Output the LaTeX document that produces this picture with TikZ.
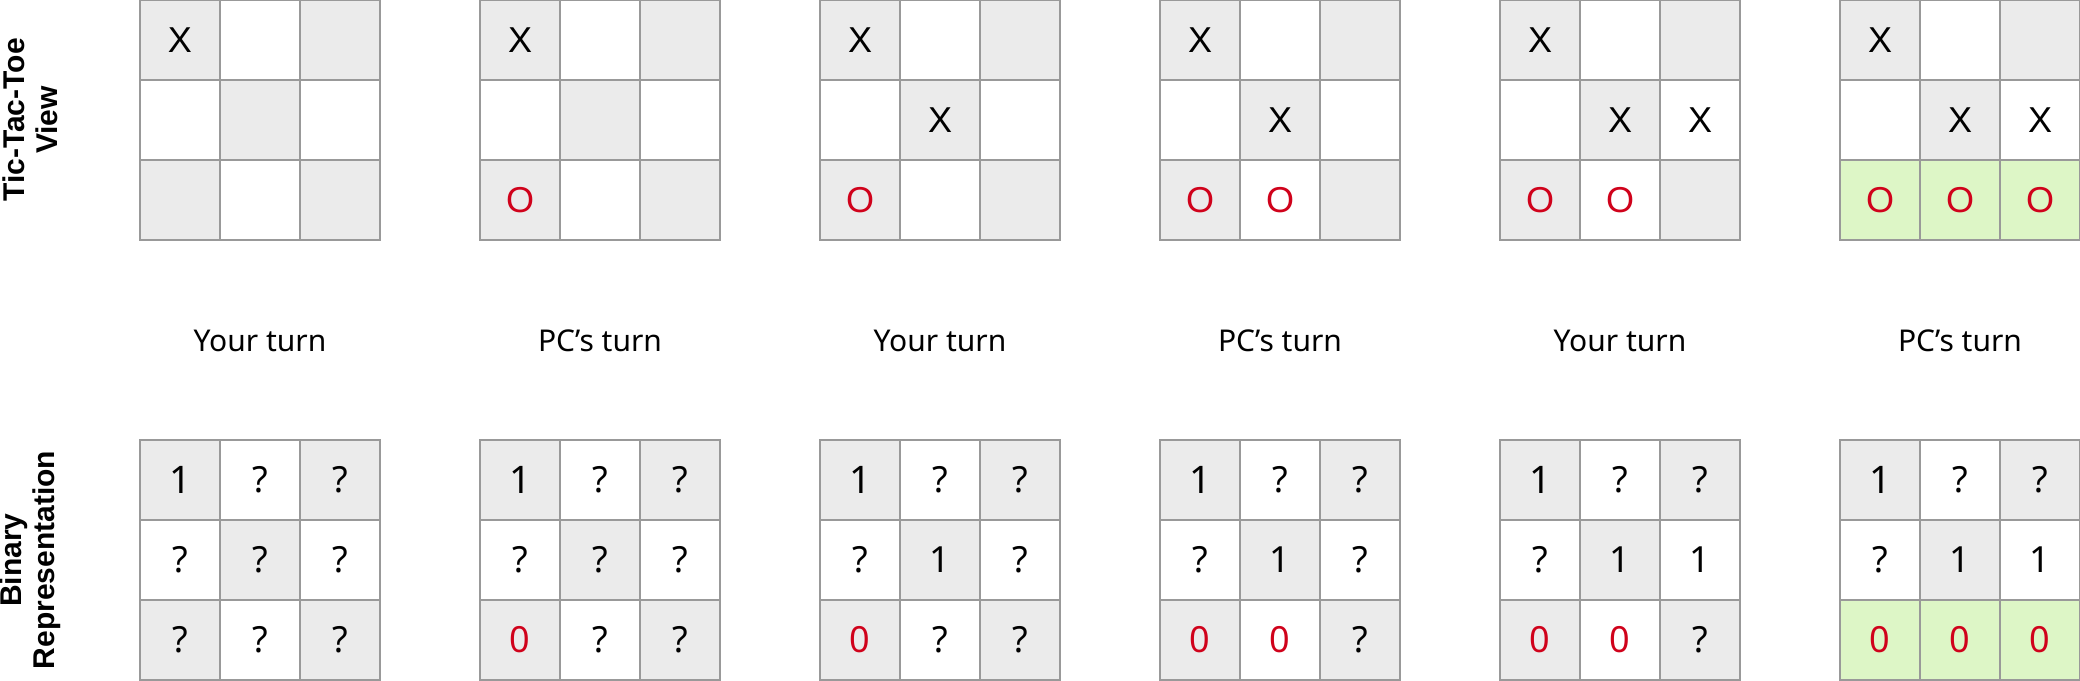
\documentclass[tikz,border=0pt]{standalone}
\usepackage{fontspec}
\setmainfont{Noto Sans}
\newfontfamily\arialf{Liberation Sans}
\definecolor{cellgray}{HTML}{EBEBEB}
\definecolor{cellgreen}{HTML}{DDF6C6}
\definecolor{gridline}{HTML}{999999}
\definecolor{markred}{HTML}{D0021B}
\newcommand\xofont{\arialf\fontsize{36}{36}\selectfont}
\newcommand\digfont{\fontsize{36}{36}\selectfont}
\newcommand\firstfont{\bfseries\fontsize{38}{38}\selectfont}
\newcommand\qfont{\fontsize{36}{36}\selectfont}
\newcommand\tttf{\color{black}\xofont X}
\newcommand\tttx{\color{black}\xofont X}
\newcommand\ttto{\color{markred}\xofont O}
\newcommand\ttte{}
\newcommand\binf{\color{black}\firstfont 1}
\newcommand\binx{\color{black}\digfont 1}
\newcommand\bino{\color{markred}\digfont 0}
\newcommand\bine{\color{black}\qfont ?}
\newcommand\setcellfill[3]{%
  \pgfmathtruncatemacro\pp{mod(#2+#3,2)}%
  \ifnum\pp=0 \def\cellfill{cellgray}\else\def\cellfill{white}\fi
  \ifnum#1=6 \ifnum#2=2 \def\cellfill{cellgreen}\fi\fi}
\begin{document}
\begin{tikzpicture}[x=1pt,y=-1pt,
  cell/.style={draw=gridline, line width=2pt, minimum size=80pt, inner sep=0pt, outer sep=0pt},
  turnlabel/.style={font=\fontsize{30}{30}\selectfont, text=black, inner sep=0pt},
  sidelabel/.style={font=\arialf\bfseries\fontsize{30}{33}\selectfont, align=center, rotate=90, inner sep=0pt}]
\useasboundingbox (0,0) rectangle (2080,680);
\foreach \k/\cells in {
  1/{f,e,e,e,e,e,e,e,e},
  2/{f,e,e,e,e,e,o,e,e},
  3/{f,e,e,e,x,e,o,e,e},
  4/{f,e,e,e,x,e,o,o,e},
  5/{f,e,e,e,x,x,o,o,e},
  6/{f,e,e,e,x,x,o,o,o}}{
  \foreach \v [count=\i from 0] in \cells {
    \pgfmathtruncatemacro\rr{int(\i/3)}
    \pgfmathtruncatemacro\cc{mod(\i,3)}
    \setcellfill{\k}{\rr}{\cc}
    \pgfmathsetmacro\cx{180+340*(\k-1)+80*\cc}
    \node[cell, fill=\cellfill] (t\k-\i) at (\cx, 40+80*\rr) {\csname ttt\v\endcsname};
    \node[cell, fill=\cellfill] (b\k-\i) at (\cx, 480+80*\rr) {\csname bin\v\endcsname};
  }
}
\foreach \k/\t in {1/Your turn, 2/PC’s turn, 3/Your turn, 4/PC’s turn, 5/Your turn, 6/PC’s turn}
  \node[turnlabel] (turn\k) at ({260+340*(\k-1)}, 341) {\t};
\node[sidelabel] (viewlabel) at (30,120) {Tic-Tac-Toe\\View};
\node[sidelabel] (binlabel) at (30,560) {Binary\\Representation};
\end{tikzpicture}
\end{document}
